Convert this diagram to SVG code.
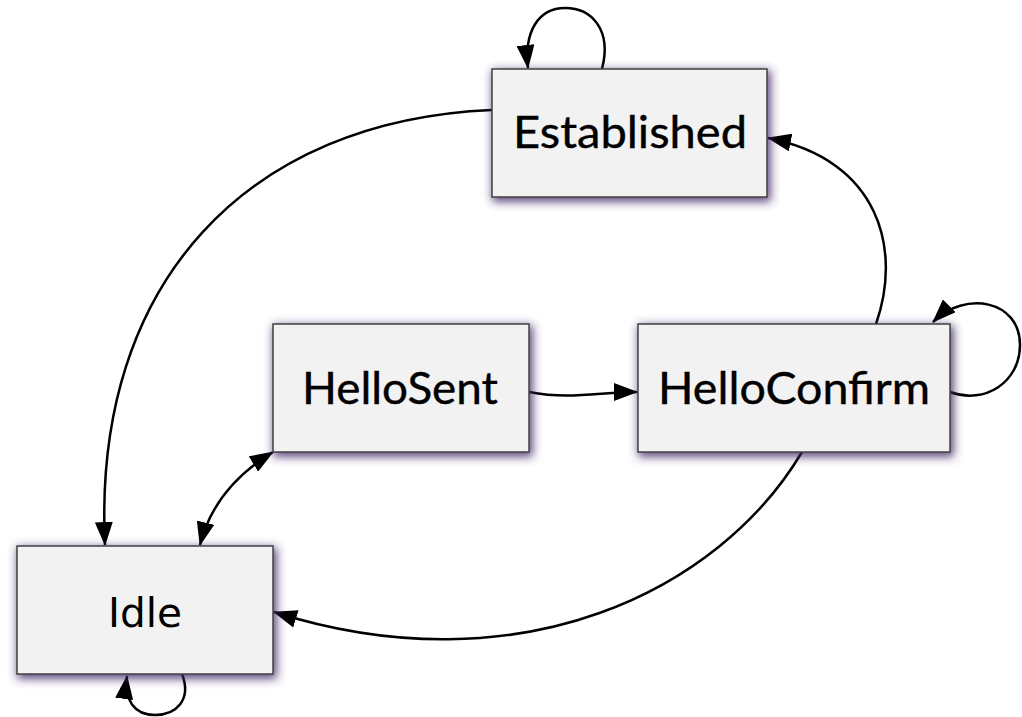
<svg xmlns="http://www.w3.org/2000/svg" width="1022" height="717" viewBox="0 0 1022 717">
  <defs>
    <filter id="glow" x="-20%" y="-25%" width="140%" height="150%">
      <feMorphology in="SourceAlpha" operator="dilate" radius="1" result="d"/>
      <feGaussianBlur in="d" stdDeviation="5"/>
      <feOffset dx="2" dy="3" result="b"/>
      <feFlood flood-color="#3e2866" flood-opacity="0.85"/>
      <feComposite in2="b" operator="in"/>
      <feMerge><feMergeNode/><feMergeNode in="SourceGraphic"/></feMerge>
    </filter>
    <marker id="arrow" viewBox="0 0 24 18" refX="23" refY="9" markerWidth="24" markerHeight="18" markerUnits="userSpaceOnUse" orient="auto-start-reverse">
      <path d="M0,0 L24,9 L0,18 Z" fill="#000"/>
    </marker>
  </defs>
  <style>
    .box { fill: #f2f2f2; stroke: #404040; stroke-width: 1.5; filter: url(#glow); }
    .label { font-family: "Lato", "Open Sans", sans-serif; font-size: 44px; fill: #000; text-anchor: middle; stroke: #000; stroke-width: 0.4; }
    .edge { fill: none; stroke: #000; stroke-width: 2.5; marker-end: url(#arrow); }
  </style>
  <rect width="1022" height="717" fill="#fff"/>

  <g id="connectors">
    <path class="edge" d="M602,69 C612,30 592,8 565,8 C538,8 524,32 528,68"/>
    <path class="edge" d="M492,110 C250,120 92,280 105,545"/>
    <path class="edge" d="M876,324 C902,250 880,160 768,138"/>
    <path class="edge" d="M950,392 C985,405 1020,382 1020,345 C1020,300 965,290 933,322"/>
    <path class="edge" d="M529,392 C570,400 600,392 637,392"/>
    <path class="edge" style="marker-start:url(#arrow)" d="M273,452 C237,474 210,505 200,545"/>
    <path class="edge" d="M802,452 C720,590 520,690 274,612"/>
    <path class="edge" d="M182,674 C192,700 176,715 155,715 C134,715 124,700 127,676"/>
  </g>

  <g id="established">
    <rect class="box" x="492" y="69" width="275" height="128"/>
    <text class="label" x="630" y="148" textLength="234" lengthAdjust="spacingAndGlyphs">Established</text>
  </g>
  <g id="hellosent">
    <rect class="box" x="273" y="324" width="256" height="128"/>
    <text class="label" x="400" y="404" textLength="196" lengthAdjust="spacingAndGlyphs">HelloSent</text>
  </g>
  <g id="helloconfirm">
    <rect class="box" x="638" y="324" width="312" height="128"/>
    <text class="label" x="794" y="404" textLength="272" lengthAdjust="spacingAndGlyphs">HelloConfirm</text>
  </g>
  <g id="idle">
    <rect class="box" x="17" y="546" width="256" height="128"/>
    <text class="label" x="145" y="627" style="font-family:'DejaVu Sans', sans-serif; font-size:41px; stroke-width:0" textLength="74" lengthAdjust="spacingAndGlyphs">Idle</text>
  </g>
</svg>
